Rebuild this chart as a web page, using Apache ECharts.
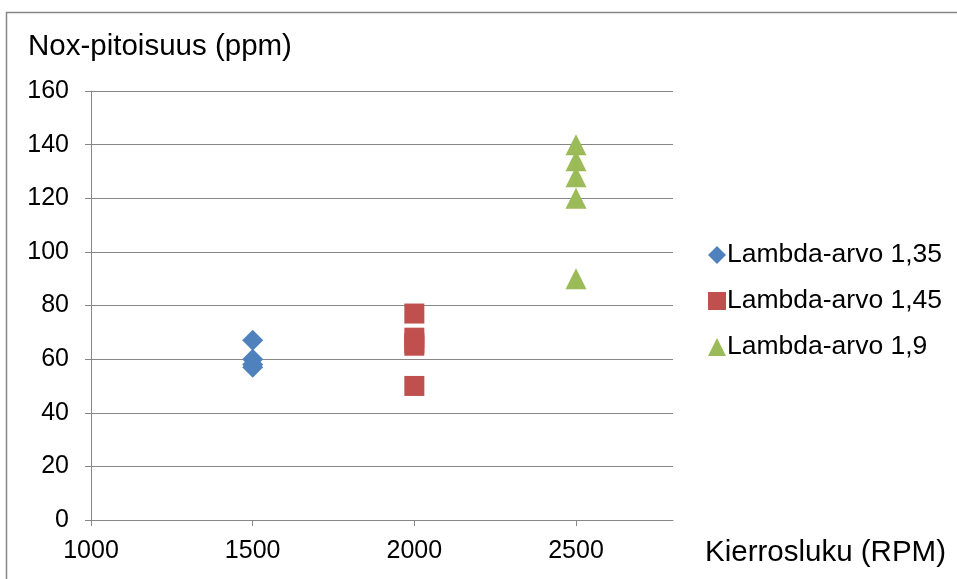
<!DOCTYPE html>
<html>
<head>
<meta charset="utf-8">
<script src="https://cdn.jsdelivr.net/npm/echarts@6/dist/echarts.min.js"></script>
<style>html,body{margin:0;padding:0;background:#fff}#c{width:957px;height:579px}</style>
</head>
<body>
<div id="c"></div>
<script>
const seriesNames = ['Lambda-arvo 1,35', 'Lambda-arvo 1,45', 'Lambda-arvo 1,9'];
const rpm135 = [1500, 1500, 1500, 1500];
const nox135 = [67, 60, 58, 57];
const rpm145 = [2000, 2000, 2000, 2000, 2000];
const nox145 = [77, 68, 66, 65, 50];
const rpm19 = [2500, 2500, 2500, 2500, 2500];
const nox19 = [140, 134, 128, 120, 90];
const xTicks = [1000, 1500, 2000, 2500];
const yTicks = [0, 20, 40, 60, 80, 100, 120, 140, 160];
const yTitle = 'Nox-pitoisuus (ppm)';
const xTitle = 'Kierrosluku (RPM)';

const pair = (xs, ys) => xs.map((x, i) => [x, ys[i]]);
const font = 'Arial, "Liberation Sans", sans-serif';
const gridColor = '#868686';

const chart = echarts.init(document.getElementById('c'), null, {renderer: 'canvas'});
chart.setOption({
  animation: false,
  backgroundColor: '#fff',
  grid: {left: 91, top: 91, right: 284, bottom: 59, containLabel: false},
  xAxis: {
    type: 'value', min: 1000, max: 2800, interval: 500,
    axisLine: {show: true, onZero: false, lineStyle: {color: gridColor, width: 1}},
    axisTick: {show: true, length: 6, lineStyle: {color: gridColor}, customValues: xTicks},
    axisLabel: {color: '#000', fontFamily: font, fontSize: 25, margin: 19, customValues: xTicks, formatter: v => String(v)},
    splitLine: {show: false}
  },
  yAxis: {
    type: 'value', min: yTicks[0], max: yTicks[yTicks.length - 1], interval: 20,
    axisLine: {show: true, lineStyle: {color: gridColor, width: 1}},
    axisTick: {show: true, length: 6, lineStyle: {color: gridColor}},
    axisLabel: {color: '#000', fontFamily: font, fontSize: 25, margin: 22, formatter: v => String(v)},
    splitLine: {show: true, lineStyle: {color: gridColor, width: 1.2}}
  },
  legend: {
    orient: 'vertical', left: 703, top: 236,
    itemWidth: 18, itemHeight: 18, itemGap: 18,
    textStyle: {color: '#000', fontFamily: font, fontSize: 26.5, lineHeight: 28, padding: [0, 0, 0, -4]},
    data: [
      {name: seriesNames[0], icon: 'diamond'},
      {name: seriesNames[1], icon: 'rect'},
      {name: seriesNames[2], icon: 'triangle'}
    ]
  },
  graphic: [
    {type: 'rect', left: 4, top: 10, shape: {width: 1000, height: 1000}, style: {fill: 'none', stroke: '#868686', lineWidth: 1.5}, silent: true, z: -1},
    {type: 'text', left: 28, top: 32, style: {text: yTitle, fill: '#000', font: '29.5px ' + font}},
    {type: 'text', left: 705, top: 538, style: {text: xTitle, fill: '#000', font: '29.5px ' + font}}
  ],
  series: [
    {name: seriesNames[0], type: 'scatter', symbol: 'diamond', symbolSize: 21, itemStyle: {color: '#4F81BD', opacity: 1}, data: pair(rpm135, nox135)},
    {name: seriesNames[1], type: 'scatter', symbol: 'rect', symbolSize: 20, itemStyle: {color: '#C0504D', opacity: 1}, data: pair(rpm145, nox145)},
    {name: seriesNames[2], type: 'scatter', symbol: 'triangle', symbolSize: 21, itemStyle: {color: '#9BBB59', opacity: 1}, data: pair(rpm19, nox19)}
  ]
});
</script>
</body>
</html>
